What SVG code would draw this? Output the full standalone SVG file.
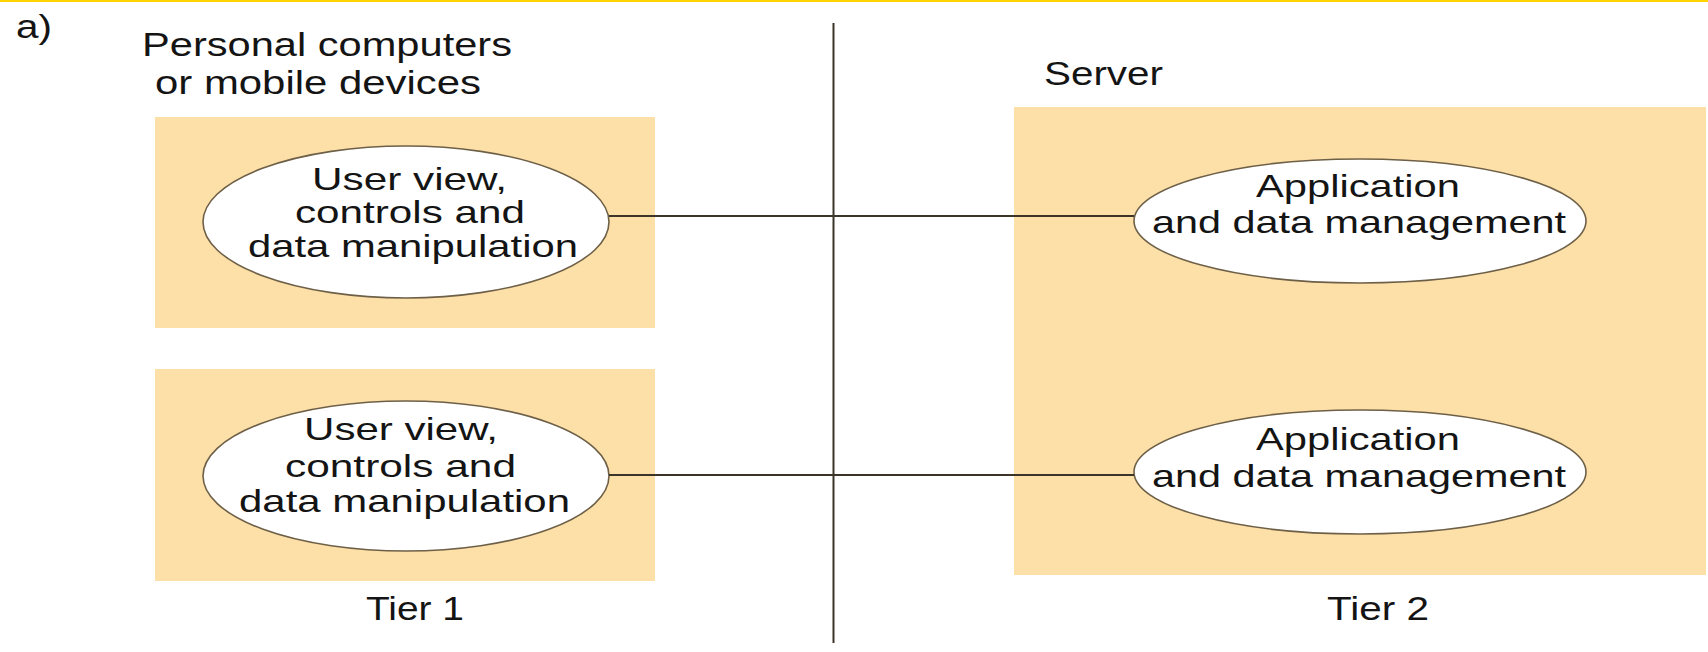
<svg xmlns="http://www.w3.org/2000/svg" width="1708" height="652" viewBox="0 0 1708 652">
<style>
text{font-family:"Liberation Sans",Arial,sans-serif;font-size:34px;fill:#141414}
.in{font-size:32px}
.box{fill:#fde0a8}
.ell{fill:#ffffff;stroke:#6e6048;stroke-width:1.6}
.conn{stroke:#3a3528;stroke-width:2;fill:none}
</style>
<rect x="0" y="0" width="1708" height="652" fill="#ffffff"/>
<rect x="0" y="0" width="1708" height="2" fill="#ffd400"/>
<text x="16" y="38" textLength="36" lengthAdjust="spacingAndGlyphs">a)</text>
<g id="tier1-label">
<text x="142" y="56" textLength="370" lengthAdjust="spacingAndGlyphs">Personal computers</text>
<text x="155" y="94" textLength="326" lengthAdjust="spacingAndGlyphs">or mobile devices</text>
</g>
<g id="server-label">
<text x="1044" y="85" textLength="119" lengthAdjust="spacingAndGlyphs">Server</text>
</g>
<g id="client1">
<rect class="box" x="155" y="117" width="500" height="211"/>
<ellipse class="ell" cx="406" cy="222" rx="203" ry="76"/>
<text class="in" x="312" y="190" textLength="195" lengthAdjust="spacingAndGlyphs">User view,</text>
<text class="in" x="295" y="223" textLength="230" lengthAdjust="spacingAndGlyphs">controls and</text>
<text class="in" x="248" y="257" textLength="330" lengthAdjust="spacingAndGlyphs">data manipulation</text>
</g>
<g id="client2">
<rect class="box" x="155" y="369" width="500" height="212"/>
<ellipse class="ell" cx="406" cy="476" rx="203" ry="75"/>
<text class="in" x="304" y="440" textLength="194" lengthAdjust="spacingAndGlyphs">User view,</text>
<text class="in" x="285" y="477" textLength="231" lengthAdjust="spacingAndGlyphs">controls and</text>
<text class="in" x="239" y="512" textLength="331" lengthAdjust="spacingAndGlyphs">data manipulation</text>
</g>
<g id="server">
<rect class="box" x="1014" y="107" width="692" height="468"/>
</g>
<g id="app1">
<ellipse class="ell" cx="1360" cy="221" rx="226" ry="62"/>
<text class="in" x="1256" y="197" textLength="204" lengthAdjust="spacingAndGlyphs">Application</text>
<text class="in" x="1152" y="233" textLength="414" lengthAdjust="spacingAndGlyphs">and data management</text>
</g>
<g id="app2">
<ellipse class="ell" cx="1360" cy="472" rx="226" ry="62"/>
<text class="in" x="1256" y="450" textLength="204" lengthAdjust="spacingAndGlyphs">Application</text>
<text class="in" x="1152" y="487" textLength="414" lengthAdjust="spacingAndGlyphs">and data management</text>
</g>
<g id="tier-labels">
<text x="366" y="620" textLength="98" lengthAdjust="spacingAndGlyphs">Tier 1</text>
<text x="1327" y="620" textLength="102" lengthAdjust="spacingAndGlyphs">Tier 2</text>
</g>
<g id="connectors">
<line class="conn" x1="833.5" y1="23" x2="833.5" y2="643"/>
<line class="conn" x1="609" y1="216" x2="1134" y2="216"/>
<line class="conn" x1="609" y1="475" x2="1134" y2="475"/>
</g>
</svg>
